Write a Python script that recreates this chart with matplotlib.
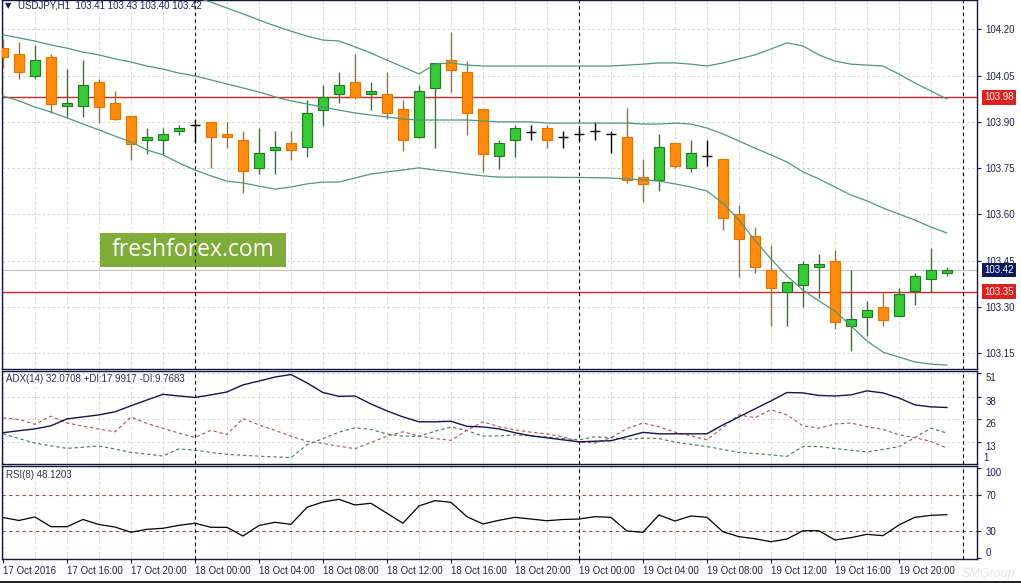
import matplotlib
matplotlib.use("Agg")
import matplotlib.pyplot as plt
import matplotlib.transforms as mtransforms
from matplotlib.lines import Line2D
from matplotlib.patches import Rectangle

plt.rcParams["font.family"] = ["Liberation Sans", "DejaVu Sans"]

# hourly USDJPY bars, 17 Oct 12:00 .. 19 Oct 23:00
opens = [104.138, 104.120, 104.048, 104.109, 103.950, 103.950, 104.029, 103.960, 103.918, 103.840,
         103.840, 103.870, 103.889, 103.899, 103.860, 103.840, 103.750, 103.809, 103.831, 103.818,
         103.939, 103.989, 104.029, 103.989, 103.989, 103.941, 103.850, 104.009, 104.100, 104.062,
         103.941, 103.789, 103.840, 103.868, 103.879, 103.851, 103.860, 103.870, 103.860, 103.851,
         103.720, 103.711, 103.831, 103.750, 103.789, 103.779, 103.601, 103.529, 103.420, 103.350,
         103.370, 103.429, 103.449, 103.240, 103.269, 103.300, 103.270, 103.351, 103.390, 103.41]
highs = [104.169, 104.158, 104.149, 104.120, 104.070, 104.100, 104.038, 104.001, 103.918, 103.881,
         103.880, 103.889, 103.906, 103.899, 103.899, 103.870, 103.880, 103.870, 103.871, 103.971,
         104.019, 104.063, 104.120, 104.029, 104.063, 103.971, 104.019, 104.092, 104.191, 104.098,
         103.943, 103.841, 103.890, 103.890, 103.890, 103.870, 103.879, 103.899, 103.870, 103.944,
         103.779, 103.862, 103.831, 103.840, 103.840, 103.779, 103.631, 103.560, 103.501, 103.380,
         103.449, 103.472, 103.485, 103.420, 103.320, 103.350, 103.361, 103.409, 103.490, 103.43]
lows = [104.075, 104.038, 104.038, 103.928, 103.917, 103.917, 103.895, 103.906, 103.776, 103.796,
        103.796, 103.858, 103.831, 103.750, 103.816, 103.669, 103.730, 103.730, 103.776, 103.787,
        103.888, 103.960, 103.975, 103.938, 103.908, 103.807, 103.848, 103.816, 103.998, 103.859,
        103.739, 103.748, 103.787, 103.840, 103.816, 103.816, 103.838, 103.840, 103.798, 103.701,
        103.641, 103.677, 103.750, 103.739, 103.758, 103.550, 103.398, 103.409, 103.240, 103.240,
        103.299, 103.328, 103.229, 103.159, 103.207, 103.240, 103.270, 103.307, 103.350, 103.40]
closes = [104.109, 104.061, 104.100, 103.959, 103.960, 104.019, 103.949, 103.908, 103.829, 103.851,
          103.860, 103.879, 103.889, 103.850, 103.850, 103.740, 103.798, 103.820, 103.808, 103.928,
          103.980, 104.019, 103.980, 103.999, 103.928, 103.840, 103.999, 104.090, 104.069, 103.928,
          103.797, 103.831, 103.879, 103.868, 103.841, 103.851, 103.860, 103.870, 103.860, 103.711,
          103.700, 103.819, 103.758, 103.798, 103.789, 103.590, 103.520, 103.429, 103.361, 103.380,
          103.439, 103.439, 103.251, 103.260, 103.290, 103.259, 103.341, 103.400, 103.420, 103.42]

# Bollinger bands
bb_upper = [104.392, 104.392, 104.389, 104.386, 104.382, 104.379, 104.376, 104.369, 104.360, 104.347,
            104.334, 104.321, 104.305, 104.288, 104.269, 104.250, 104.230, 104.211, 104.194, 104.178,
            104.165, 104.162, 104.143, 104.123, 104.100, 104.078, 104.055, 104.087, 104.091, 104.084,
            104.081, 104.081, 104.081, 104.081, 104.081, 104.081, 104.081, 104.081, 104.081, 104.084,
            104.087, 104.091, 104.091, 104.087, 104.081, 104.091, 104.104, 104.117, 104.136, 104.156,
            104.146, 104.117, 104.097, 104.087, 104.084, 104.081, 104.055, 104.026, 104.000, 103.974]
bb_middle = [104.182, 104.172, 104.162, 104.149, 104.139, 104.126, 104.117, 104.104, 104.094, 104.081,
             104.071, 104.058, 104.049, 104.036, 104.023, 104.010, 103.997, 103.981, 103.968, 103.958,
             103.948, 103.938, 103.929, 103.922, 103.916, 103.909, 103.906, 103.906, 103.906, 103.906,
             103.903, 103.900, 103.900, 103.900, 103.896, 103.896, 103.896, 103.896, 103.896, 103.896,
             103.893, 103.893, 103.896, 103.893, 103.880, 103.861, 103.838, 103.815, 103.793, 103.770,
             103.738, 103.715, 103.689, 103.663, 103.644, 103.621, 103.601, 103.582, 103.559, 103.540]
bb_lower = [103.984, 103.968, 103.948, 103.932, 103.913, 103.893, 103.874, 103.854, 103.835, 103.809,
            103.793, 103.767, 103.744, 103.725, 103.708, 103.702, 103.692, 103.682, 103.689, 103.699,
            103.705, 103.705, 103.718, 103.731, 103.738, 103.744, 103.751, 103.744, 103.738, 103.731,
            103.725, 103.721, 103.721, 103.721, 103.721, 103.720, 103.720, 103.719, 103.718, 103.715,
            103.712, 103.708, 103.699, 103.689, 103.676, 103.637, 103.582, 103.517, 103.456, 103.401,
            103.355, 103.320, 103.287, 103.239, 103.190, 103.154, 103.138, 103.122, 103.115, 103.112]

# ADX(14)
adx = [18.2, 19.3, 20.3, 22.0, 25.8, 26.9, 28.0, 29.7, 33.0, 36.2,
       39.3, 38.4, 37.6, 39.0, 40.6, 44.5, 46.6, 48.8, 50.2, 45.6,
       40.3, 38.2, 38.4, 34.0, 30.2, 26.9, 24.2, 24.2, 24.5, 21.7,
       21.4, 20.3, 18.2, 16.5, 15.4, 14.3, 13.2, 13.5, 13.8, 16.0,
       18.4, 17.6, 17.6, 17.6, 17.6, 22.5, 26.9, 31.3, 35.7, 40.3,
       40.1, 38.7, 38.4, 39.0, 41.2, 40.1, 37.3, 33.5, 32.4, 32.07]
plus_di = [17.6, 15.0, 12.5, 11.0, 9.6, 10.2, 10.9, 9.2, 7.4, 6.4,
           5.4, 9.3, 8.6, 7.4, 6.3, 5.8, 5.3, 4.9, 4.5, 11.5,
           15.0, 18.5, 20.9, 20.0, 17.5, 16.3, 16.3, 19.0, 21.3, 19.4,
           16.3, 16.5, 17.0, 16.5, 15.8, 15.0, 14.3, 16.0, 15.5, 14.5,
           15.2, 15.0, 13.0, 11.8, 10.6, 9.0, 7.4, 6.8, 6.0, 5.2,
           10.6, 10.6, 9.5, 8.6, 7.6, 9.0, 10.6, 15.5, 20.7, 17.99]
minus_di = [26.4, 25.5, 22.8, 27.3, 23.6, 21.8, 20.2, 18.7, 26.8, 23.3,
            20.6, 18.0, 15.6, 19.5, 17.2, 26.0, 22.5, 19.5, 16.3, 13.5,
            12.3, 10.8, 9.4, 12.8, 16.3, 18.7, 16.4, 15.0, 14.0, 19.5,
            24.2, 21.5, 19.8, 18.5, 17.5, 16.0, 13.0, 12.5, 15.5, 20.5,
            23.5, 21.5, 18.5, 16.5, 14.3, 21.0, 28.0, 26.5, 30.8, 28.0,
            22.0, 20.7, 23.0, 23.5, 21.6, 20.0, 17.1, 15.5, 13.4, 9.77]

# RSI(8)
rsi = [45.0, 41.7, 45.6, 34.8, 34.8, 42.8, 37.2, 34.4, 28.6, 31.9,
       33.0, 36.3, 38.6, 34.1, 34.1, 24.4, 36.1, 39.7, 37.4, 56.3,
       62.2, 65.2, 58.9, 60.8, 49.7, 38.6, 57.8, 63.7, 61.9, 45.9,
       37.8, 41.9, 45.2, 43.3, 41.4, 42.8, 43.3, 45.9, 45.2, 30.0,
       28.6, 47.8, 41.1, 46.7, 45.2, 29.2, 23.7, 21.4, 18.1, 21.1,
       30.3, 30.3, 20.0, 22.6, 26.3, 24.8, 36.7, 45.2, 47.4, 48.12]

price_ticks = [103.15, 103.30, 103.45, 103.60, 103.75, 103.90, 104.05, 104.20]
red_levels = [103.98, 103.35]
bid = 103.42
time_tick_pos = list(range(0, 57, 4))
time_labels = ["17 Oct 2016", "17 Oct 16:00", "17 Oct 20:00", "18 Oct 00:00", "18 Oct 04:00",
               "18 Oct 08:00", "18 Oct 12:00", "18 Oct 16:00", "18 Oct 20:00", "19 Oct 00:00",
               "19 Oct 04:00", "19 Oct 08:00", "19 Oct 12:00", "19 Oct 16:00", "19 Oct 20:00"]
day_starts = [12, 36, 60]

W, H = 1021, 583
fig = plt.figure(figsize=(W / 100, H / 100), dpi=100)
fig.patch.set_facecolor("white")


def panel(top, bottom):
    return fig.add_axes([2 / W, 1 - bottom / H, 975 / W, (bottom - top) / H])


ax = panel(0, 369)
ax_adx = panel(371, 464)
ax_rsi = panel(466, 559)

frame = "#16163e"
txt = "#20204a"
grid_c = "#cdcdcd"
xlim = (-0.06, 60.88)

for a in (ax, ax_adx, ax_rsi):
    a.set_xlim(*xlim)
    for s in a.spines.values():
        s.set_color(frame)
        s.set_linewidth(1.0)
    a.yaxis.tick_right()
    a.tick_params(axis="y", length=3, pad=3, labelsize=7, colors=frame, labelcolor=txt)
    a.tick_params(axis="x", bottom=False, labelbottom=False)
    for i in range(0, 61, 2):
        a.axvline(i, color=grid_c, lw=0.6, ls=(0, (3, 3)), zorder=0.5)
    for d in day_starts:
        a.axvline(d, color="black", lw=0.8, ls=(0, (3, 3)), zorder=2)

# ---- main price panel ----
ax.set_ylim(103.0992, 104.2949)
ax.set_yticks(price_ticks)
ax.set_yticklabels(["%.2f" % p for p in price_ticks])
for p in price_ticks:
    ax.axhline(p, color=grid_c, lw=0.6, ls=(0, (3, 3)), zorder=0.5)
ax.axhline(bid, color="#c4c4c4", lw=0.8, zorder=0.6)
for p in red_levels:
    ax.axhline(p, color="#d0262a", lw=1.0, zorder=2.5)

xs = list(range(len(opens)))
for a_line in (bb_upper, bb_middle, bb_lower):
    ax.plot(xs, a_line, color="#4e977c", lw=0.9, zorder=6)

for i in xs:
    o, h, l, c = opens[i], highs[i], lows[i], closes[i]
    if c > o:
        fill, edge, wick = "#35c935", "#1f7a1f", "#2f7a2f"
    elif c < o:
        fill, edge, wick = "#ff8c10", "#e27300", "#b8652a"
    else:
        fill, edge, wick = None, "black", "black"
    ax.vlines(i, l, h, color=wick, lw=1.0, zorder=4)
    if fill is None:
        ax.hlines(o, i - 0.33, i + 0.33, color="black", lw=1.0, zorder=5)
    else:
        ax.add_patch(Rectangle((i - 0.31, min(o, c)), 0.62, max(abs(c - o), 0.001),
                               facecolor=fill, edgecolor=edge, lw=0.8, zorder=5))

blend = mtransforms.blended_transform_factory(ax.transAxes, ax.transData)
for p, col in ((103.98, "#e0201e"), (103.35, "#e0201e"), (bid, "#0d1a5e")):
    ax.text(1.0072, p, "%.2f" % p, transform=blend, ha="left", va="center", fontsize=7,
            color="white", zorder=10, clip_on=False,
            bbox=dict(boxstyle="square,pad=0.25", fc=col, ec="none"))

# watermark
ax.add_patch(Rectangle((100 / W, 1 - 267 / H), 186 / W, 34 / H, transform=fig.transFigure,
                       facecolor="#80ac3a", edgecolor="none", zorder=1.5, clip_on=False))
ax.text(193 / W, 1 - 250.5 / H, "freshforex.com", transform=fig.transFigure, ha="center",
        va="center", fontsize=16.5, color="white", family="Open Sans", zorder=1.6)

fig.text(8 / W, 1 - 6 / H, "\u25bc", fontsize=6, color=txt, family="DejaVu Sans",
         ha="center", va="center")
fig.text(18 / W, 1 - 6 / H, "USDJPY,H1  103.41 103.43 103.40 103.42", fontsize=7,
         color=txt, ha="left", va="center")

# ---- ADX panel ----
ax_adx.set_ylim(1.0, 52.13)
ax_adx.plot(xs, adx, color="#141450", lw=1.0, zorder=5)
ax_adx.plot(xs, plus_di, color="#3c7a4c", lw=0.8, ls=(0, (3, 2.5)), zorder=4)
ax_adx.plot(xs, minus_di, color="#b0504a", lw=0.8, ls=(0, (3, 2.5)), zorder=4)
adx_ticks = [51, 38, 26, 13]
ax_adx.set_yticks(adx_ticks)
ax_adx.set_yticklabels([str(t) for t in adx_ticks])
for t in ax_adx.get_yticklabels():
    t.set_va("top")
for t in adx_ticks:
    ax_adx.axhline(t, color=grid_c, lw=0.6, ls=(0, (3, 3)), zorder=0.5)
ax_adx.text(1.0062, 0.01, "1", transform=ax_adx.transAxes, ha="left", va="bottom",
            fontsize=7, color=txt)
ax_adx.text(0.004, 0.91, "ADX(14) 32.0708 +DI:17.9917 -DI:9.7683", transform=ax_adx.transAxes,
            ha="left", va="center", fontsize=7, color="#303050")

# ---- RSI panel ----
ax_rsi.set_ylim(-1.1, 102.2)
ax_rsi.plot(xs, rsi, color="black", lw=0.9, zorder=5)
for lv in (70, 30):
    ax_rsi.axhline(lv, color="#a04848", lw=0.8, ls=(0, (3, 3)), zorder=1)
ax_rsi.set_yticks([100, 70, 30, 0])
ax_rsi.set_yticklabels(["100", "70", "30", "0"])
labs = ax_rsi.get_yticklabels()
labs[0].set_va("top")
labs[3].set_va("bottom")
ax_rsi.text(0.004, 0.905, "RSI(8) 48.1203", transform=ax_rsi.transAxes,
            ha="left", va="center", fontsize=7, color="#303050")

ax_rsi.set_xticks(time_tick_pos)
ax_rsi.set_xticklabels(time_labels)
ax_rsi.tick_params(axis="x", bottom=True, labelbottom=True, length=3, pad=2,
                   labelsize=7, colors=frame, labelcolor=txt)
for t in ax_rsi.get_xticklabels():
    t.set_ha("left")

# faint broker mark in the corner, clear of the time scale
fig.text(962 / W, 3 / H, "SMGroup", fontsize=9, color="#e2e2e2", ha="left", va="bottom",
         style="italic")
fig.add_artist(Line2D([0, 1], [1.2 / H, 1.2 / H], color="#202020", lw=1.4))

fig.savefig("out.png", dpi=100)
